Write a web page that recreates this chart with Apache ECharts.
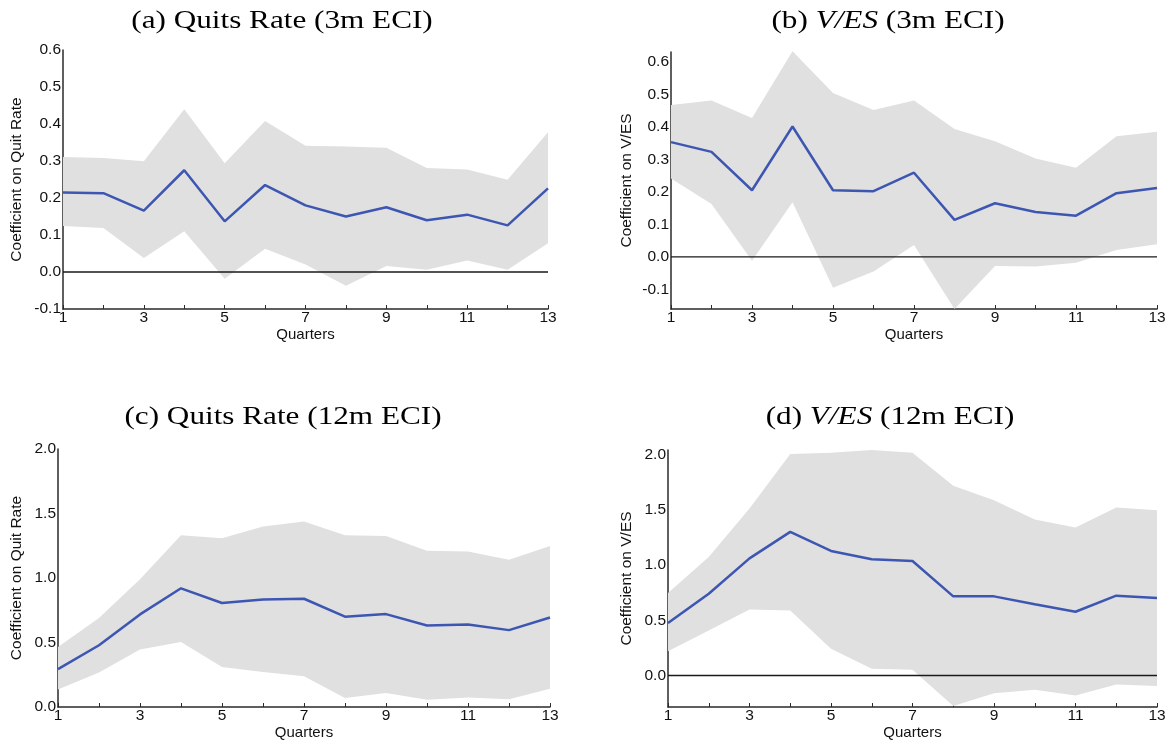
<!DOCTYPE html>
<html>
<head>
<meta charset="utf-8">
<title>Coefficients by quarter</title>
<script src="https://cdn.jsdelivr.net/npm/echarts@6/dist/echarts.min.js"></script>
<style>
  html, body { margin: 0; padding: 0; background: #fff; }
  #chart { width: 1170px; height: 742px; }
</style>
</head>
<body>
<div id="chart"></div>
<script>
// x axis
const quarters = ['1', '2', '3', '4', '5', '6', '7', '8', '9', '10', '11', '12', '13'];

// (a) Quits Rate, 3m ECI
const aCoef  = [0.215, 0.213, 0.166, 0.275, 0.137, 0.235, 0.180, 0.150, 0.175, 0.140, 0.155, 0.126, 0.226];
const aUpper = [0.311, 0.308, 0.299, 0.440, 0.294, 0.408, 0.341, 0.339, 0.336, 0.281, 0.277, 0.249, 0.378];
const aLower = [0.124, 0.119, 0.038, 0.110, -0.018, 0.063, 0.020, -0.037, 0.016, 0.006, 0.031, 0.006, 0.078];

// (b) V/ES, 3m ECI
const bCoef  = [0.353, 0.323, 0.205, 0.401, 0.205, 0.202, 0.259, 0.114, 0.165, 0.138, 0.127, 0.196, 0.212];
const bUpper = [0.467, 0.481, 0.427, 0.632, 0.504, 0.452, 0.481, 0.393, 0.356, 0.303, 0.274, 0.371, 0.385];
const bLower = [0.241, 0.163, -0.012, 0.168, -0.095, -0.045, 0.037, -0.160, -0.028, -0.029, -0.018, 0.021, 0.039];

// (c) Quits Rate, 12m ECI
const cCoef  = [0.293, 0.479, 0.718, 0.920, 0.806, 0.834, 0.839, 0.700, 0.720, 0.632, 0.640, 0.596, 0.694];
const cUpper = [0.466, 0.690, 0.990, 1.332, 1.308, 1.400, 1.438, 1.332, 1.326, 1.212, 1.205, 1.142, 1.249];
const cLower = [0.135, 0.267, 0.446, 0.503, 0.311, 0.272, 0.238, 0.070, 0.109, 0.057, 0.073, 0.060, 0.142];

// (d) V/ES, 12m ECI
const dCoef  = [0.474, 0.740, 1.060, 1.299, 1.127, 1.051, 1.036, 0.716, 0.716, 0.644, 0.577, 0.722, 0.701];
const dUpper = [0.746, 1.072, 1.510, 2.003, 2.015, 2.040, 2.015, 1.716, 1.586, 1.411, 1.338, 1.520, 1.495];
const dLower = [0.220, 0.408, 0.598, 0.589, 0.242, 0.060, 0.051, -0.275, -0.160, -0.130, -0.181, -0.082, -0.094];

// y tick labels
const ticks3m  = [-0.1, 0.0, 0.1, 0.2, 0.3, 0.4, 0.5, 0.6];
const ticks12m = [0.0, 0.5, 1.0, 1.5, 2.0];

const BAND = '#e0e0e0';
const LINE = '#3d56b2';
const AXIS = '#2a2a2a';
const TEXT = '#111';
const SANS = '"Liberation Sans", Arial, sans-serif';
const SERIF = '"Liberation Serif", "Times New Roman", serif';

const panels = [
  { coef: aCoef, upper: aUpper, lower: aLower, ticks: ticks3m, min: -0.1, max: 0.6,
    grid: { left: 63, right: 622, top: 50, bottom: 433 }, yName: 'Coefficient on Quit Rate', nameGap: 38, zeroLine: true },
  { coef: bCoef, upper: bUpper, lower: bLower, ticks: ticks3m, min: -0.16, max: 0.63,
    grid: { left: 671, right: 13, top: 52, bottom: 433 }, yName: 'Coefficient on V/ES', nameGap: 36, zeroLine: true },
  { coef: cCoef, upper: cUpper, lower: cLower, ticks: ticks12m, min: 0, max: 2.0,
    grid: { left: 58, right: 620, top: 449, bottom: 35 }, yName: 'Coefficient on Quit Rate', nameGap: 33, zeroLine: false },
  { coef: dCoef, upper: dUpper, lower: dLower, ticks: ticks12m, min: -0.285, max: 2.04,
    grid: { left: 668, right: 13, top: 450, bottom: 35 }, yName: 'Coefficient on V/ES', nameGap: 33, zeroLine: true }
];

const grids = [], xAxes = [], yAxes = [], series = [];

panels.forEach((p, i) => {
  grids.push(p.grid);

  xAxes.push({
    type: 'category',
    gridIndex: i,
    data: quarters,
    boundaryGap: false,
    name: 'Quarters',
    nameLocation: 'middle',
    nameGap: 17,
    nameTextStyle: { fontFamily: SANS, fontSize: 15, color: TEXT },
    axisLine: { onZero: false, lineStyle: { color: AXIS, width: 1.5 } },
    axisTick: { show: true, inside: true, interval: 0, length: 4, lineStyle: { color: AXIS } },
    axisLabel: { interval: 1, margin: 1, fontFamily: SANS, fontSize: 15.5, color: TEXT },
    splitLine: { show: false }
  });

  yAxes.push({
    type: 'value',
    gridIndex: i,
    min: p.min,
    max: p.max,
    name: p.yName,
    nameLocation: 'middle',
    nameRotate: 90,
    nameGap: p.nameGap,
    nameTextStyle: { fontFamily: SANS, fontSize: 15.5, color: TEXT },
    axisLine: { show: true, lineStyle: { color: AXIS, width: 1.5 } },
    axisTick: { show: false },
    axisLabel: {
      customValues: p.ticks,
      margin: 2,
      fontFamily: SANS,
      fontSize: 15.5,
      color: TEXT,
      formatter: v => Number(v).toFixed(1)
    },
    splitLine: { show: false }
  });

  // confidence band: lower bound + (upper - lower) stacked
  series.push({
    type: 'line',
    xAxisIndex: i,
    yAxisIndex: i,
    stack: 'band' + i,
    stackStrategy: 'all',
    data: p.lower,
    symbol: 'none',
    silent: true,
    lineStyle: { opacity: 0 },
    z: 1
  });
  series.push({
    type: 'line',
    xAxisIndex: i,
    yAxisIndex: i,
    stack: 'band' + i,
    stackStrategy: 'all',
    data: p.upper.map((u, k) => u - p.lower[k]),
    symbol: 'none',
    silent: true,
    lineStyle: { opacity: 0 },
    areaStyle: { color: BAND, opacity: 1 },
    z: 1
  });

  // zero reference line, drawn over the band
  if (p.zeroLine) {
    series.push({
      type: 'line',
      xAxisIndex: i,
      yAxisIndex: i,
      data: quarters.map(() => 0),
      symbol: 'none',
      silent: true,
      lineStyle: { color: '#1a1a1a', width: 1.3 },
      z: 3
    });
  }

  // point estimate
  series.push({
    type: 'line',
    xAxisIndex: i,
    yAxisIndex: i,
    data: p.coef,
    symbol: 'none',
    lineStyle: { color: LINE, width: 2.5 },
    z: 4
  });
});

// panel titles (serif, V/ES in italics)
const titleRich = {
  n: { fontFamily: SERIF, fontSize: 26, color: TEXT },
  i: { fontFamily: SERIF, fontSize: 26, fontStyle: 'italic', color: TEXT }
};
const titles = [
  { x: 282, y: 21, text: '{n|(a) Quits Rate (3m ECI)}' },
  { x: 888, y: 21, text: '{n|(b) }{i|V/ES}{n| (3m ECI)}' },
  { x: 283, y: 417, text: '{n|(c) Quits Rate (12m ECI)}' },
  { x: 890, y: 417, text: '{n|(d) }{i|V/ES}{n| (12m ECI)}' }
];

const chart = echarts.init(document.getElementById('chart'), null, { renderer: 'canvas' });

chart.setOption({
  animation: false,
  backgroundColor: '#fff',
  grid: grids,
  xAxis: xAxes,
  yAxis: yAxes,
  series: series,
  graphic: titles.map(t => ({
    type: 'text',
    x: t.x,
    y: t.y,
    scaleX: 1.2,
    style: {
      text: t.text,
      rich: titleRich,
      align: 'center',
      verticalAlign: 'middle'
    }
  }))
});
</script>
</body>
</html>
